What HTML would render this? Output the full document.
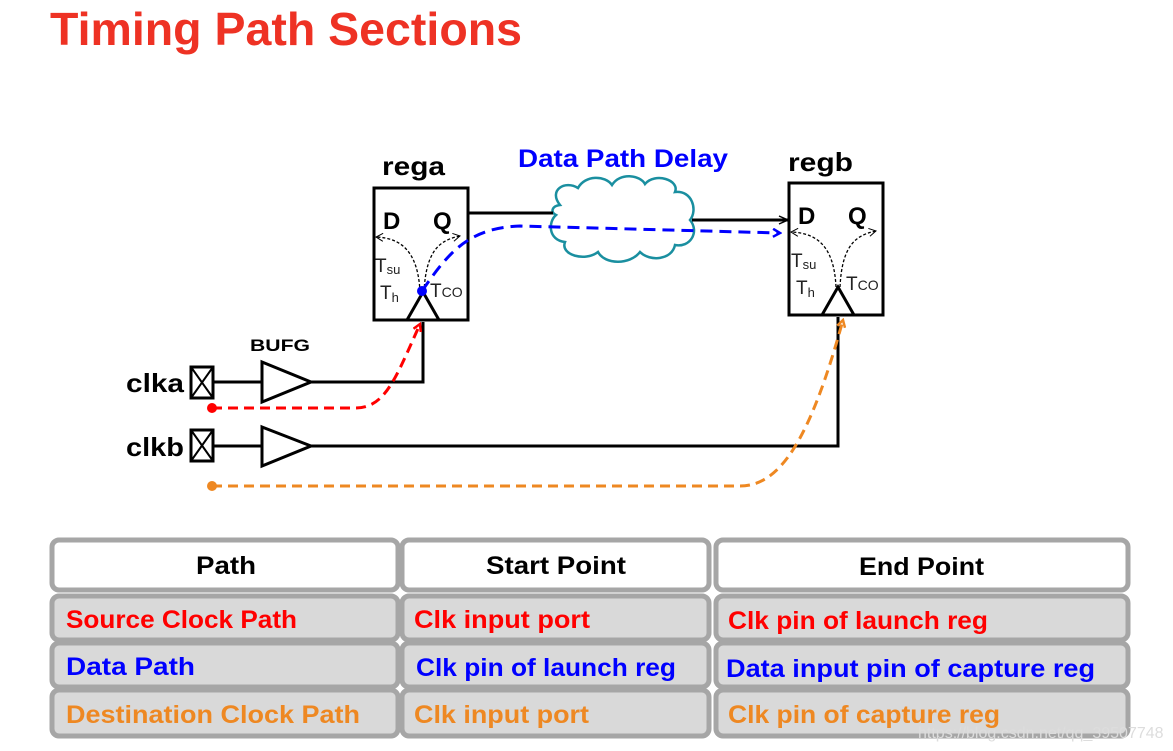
<!DOCTYPE html>
<html><head><meta charset="utf-8"><style>
body{margin:0;background:#fff;}
svg{display:block;font-family:"Liberation Sans",sans-serif;}
</style></head><body>
<svg width="1173" height="751" viewBox="0 0 1173 751" xmlns="http://www.w3.org/2000/svg">
<defs>
<marker id="ab" markerWidth="10" markerHeight="10" refX="8" refY="5" orient="auto" markerUnits="userSpaceOnUse"><path d="M1,1 L8,5 L1,9" fill="none" stroke="#0000ff" stroke-width="2.5"/></marker>
<marker id="ak" markerWidth="12" markerHeight="10" refX="10" refY="5" orient="auto" markerUnits="userSpaceOnUse"><path d="M1,1 L10,5 L1,9" fill="none" stroke="#000" stroke-width="1.5"/></marker>
<marker id="at" markerWidth="10" markerHeight="10" refX="8" refY="5" orient="auto" markerUnits="userSpaceOnUse"><path d="M1,1 L8,5 L1,9" fill="none" stroke="#000" stroke-width="1"/></marker>
<marker id="ar" markerWidth="10" markerHeight="10" refX="8" refY="5" orient="auto" markerUnits="userSpaceOnUse"><path d="M1,1 L8,5 L1,9" fill="none" stroke="#ff0000" stroke-width="2.5"/></marker>
<marker id="ao" markerWidth="10" markerHeight="10" refX="8" refY="5" orient="auto" markerUnits="userSpaceOnUse"><path d="M1,1 L8,5 L1,9" fill="none" stroke="#ee8822" stroke-width="2.5"/></marker>
</defs>
<text x="50" y="45" font-size="46" font-weight="bold" fill="#ee3224" textLength="472" lengthAdjust="spacingAndGlyphs">Timing Path Sections</text>

<text x="382" y="175" font-size="26" font-weight="bold" textLength="63" lengthAdjust="spacingAndGlyphs">rega</text>
<text x="788" y="171" font-size="26" font-weight="bold" textLength="65" lengthAdjust="spacingAndGlyphs">regb</text>
<text x="518" y="167" font-size="25" font-weight="bold" fill="#0000ff" textLength="210" lengthAdjust="spacingAndGlyphs">Data Path Delay</text>
<rect x="374" y="188" width="94" height="132" fill="#fff" stroke="#000" stroke-width="3"/>
<rect x="789" y="183" width="94" height="132" fill="#fff" stroke="#000" stroke-width="3"/>
<g font-size="24" font-weight="bold">
<text x="383" y="229">D</text><text x="433" y="229">Q</text>
<text x="798" y="224">D</text><text x="848" y="224">Q</text>
</g>
<g font-size="19" fill="#222">
<text x="375" y="272">T<tspan font-size="13" dy="2">su</tspan></text>
<text x="380" y="299">T<tspan font-size="13" dy="3">h</tspan></text>
<text x="430" y="297">T<tspan font-size="14" dy="0">CO</tspan></text>
<text x="791" y="267">T<tspan font-size="13" dy="2">su</tspan></text>
<text x="796" y="294">T<tspan font-size="13" dy="3">h</tspan></text>
<text x="846" y="290">T<tspan font-size="14" dy="0">CO</tspan></text>
</g>
<g fill="none" stroke="#000" stroke-width="1.3" stroke-dasharray="3,2">
<path d="M420,292 C418,250 400,238 376,237" marker-end="url(#at)"/>
<path d="M424,292 C426,250 440,240 460,236" marker-end="url(#at)"/>
<path d="M836,287 C834,245 816,233 791,232" marker-end="url(#at)"/>
<path d="M840,287 C842,245 856,235 876,231" marker-end="url(#at)"/>
</g>
<path d="M407,320 L423,292 L439,320" fill="none" stroke="#000" stroke-width="3"/>
<path d="M822,315 L838,287 L854,315" fill="none" stroke="#000" stroke-width="3"/>

<path d="M560,205 C548,190 565,180 578,188 C585,175 605,175 612,185 C620,172 640,175 645,184 C655,172 680,180 675,192 C692,190 698,210 690,220 C700,232 690,248 675,245 C672,260 650,262 640,252 C630,265 605,265 598,252 C585,262 560,255 565,242 C548,240 548,222 556,215 C550,212 552,206 560,205 Z" fill="#fff" stroke="#1a8fa0" stroke-width="2.5"/>
<line x1="469" y1="213" x2="553" y2="213" stroke="#000" stroke-width="3"/>
<line x1="692" y1="220" x2="788" y2="220" stroke="#000" stroke-width="3" marker-end="url(#ak)"/>
<path d="M422,291 C450,250 470,228 520,226 L780,233" fill="none" stroke="#0000ff" stroke-width="3" stroke-dasharray="12,7" marker-end="url(#ab)"/>
<circle cx="422" cy="291" r="5" fill="#0000ff"/>

<text x="126" y="392" font-size="26" font-weight="bold" textLength="58" lengthAdjust="spacingAndGlyphs">clka</text>
<text x="126" y="456" font-size="26" font-weight="bold" textLength="58" lengthAdjust="spacingAndGlyphs">clkb</text>
<g fill="none" stroke="#000" stroke-width="3">
<rect x="191" y="367" width="22" height="31"/>
<path d="M191,367 L213,398 M213,367 L191,398" stroke-width="2"/>
<rect x="191" y="430" width="22" height="31"/>
<path d="M191,430 L213,461 M213,430 L191,461" stroke-width="2"/>
<path d="M262,362 L311,382 L262,402 Z"/>
<path d="M262,427 L311,446 L262,466 Z"/>
<path d="M213,382 L262,382 M311,382 L423,382 L423,322"/>
<path d="M213,446 L262,446 M311,446 L838,446 L838,317"/>
</g>
<text x="250" y="351" font-size="17" font-weight="bold" textLength="60" lengthAdjust="spacingAndGlyphs">BUFG</text>
<path d="M212,408 L355,408 C385,408 395,380 420,324" fill="none" stroke="#ff0000" stroke-width="3" stroke-dasharray="10,6" marker-end="url(#ar)"/>
<circle cx="212" cy="408" r="5" fill="#ff0000"/>
<path d="M212,486 L740,486 C780,486 810,440 843,320" fill="none" stroke="#ee8822" stroke-width="3" stroke-dasharray="10,6" marker-end="url(#ao)"/>
<circle cx="212" cy="486" r="5" fill="#ee8822"/>

<g stroke="#a6a6a6" stroke-width="5">
<rect x="52" y="540" width="346" height="50" rx="7" fill="#fff"/>
<rect x="402" y="540" width="307" height="50" rx="7" fill="#fff"/>
<rect x="716" y="540" width="412" height="50" rx="7" fill="#fff"/>
<rect x="52" y="596" width="346" height="44" rx="7" fill="#d9d9d9"/>
<rect x="402" y="596" width="307" height="44" rx="7" fill="#d9d9d9"/>
<rect x="716" y="596" width="412" height="44" rx="7" fill="#d9d9d9"/>
<rect x="52" y="643" width="346" height="44" rx="7" fill="#d9d9d9"/>
<rect x="402" y="643" width="307" height="44" rx="7" fill="#d9d9d9"/>
<rect x="716" y="643" width="412" height="44" rx="7" fill="#d9d9d9"/>
<rect x="52" y="690" width="346" height="46" rx="7" fill="#d9d9d9"/>
<rect x="402" y="690" width="307" height="46" rx="7" fill="#d9d9d9"/>
<rect x="716" y="690" width="412" height="46" rx="7" fill="#d9d9d9"/>
</g>
<g font-size="25" font-weight="bold" lengthAdjust="spacingAndGlyphs">
<text x="196" y="574" textLength="60" lengthAdjust="spacingAndGlyphs">Path</text>
<text x="486" y="574" textLength="140" lengthAdjust="spacingAndGlyphs">Start Point</text>
<text x="859" y="575" textLength="125" lengthAdjust="spacingAndGlyphs">End Point</text>
<g fill="#ff0000"><text x="66" y="628" textLength="231" lengthAdjust="spacingAndGlyphs">Source Clock Path</text><text x="414" y="628" textLength="176" lengthAdjust="spacingAndGlyphs">Clk input port</text><text x="728" y="629" textLength="260" lengthAdjust="spacingAndGlyphs">Clk pin of launch reg</text></g>
<g fill="#0000ff"><text x="66" y="675" textLength="129" lengthAdjust="spacingAndGlyphs">Data Path</text><text x="416" y="676" textLength="260" lengthAdjust="spacingAndGlyphs">Clk pin of launch reg</text><text x="726" y="677" textLength="369" lengthAdjust="spacingAndGlyphs">Data input pin of capture reg</text></g>
<g fill="#ee8822"><text x="66" y="723" textLength="294" lengthAdjust="spacingAndGlyphs">Destination Clock Path</text><text x="414" y="723" textLength="175" lengthAdjust="spacingAndGlyphs">Clk input port</text><text x="728" y="723" textLength="272" lengthAdjust="spacingAndGlyphs">Clk pin of capture reg</text></g>
</g>
<text x="918" y="738" font-size="16" fill="#ddd">https://blog.csdn.net/qq_39507748</text>
</svg>
</body></html>
